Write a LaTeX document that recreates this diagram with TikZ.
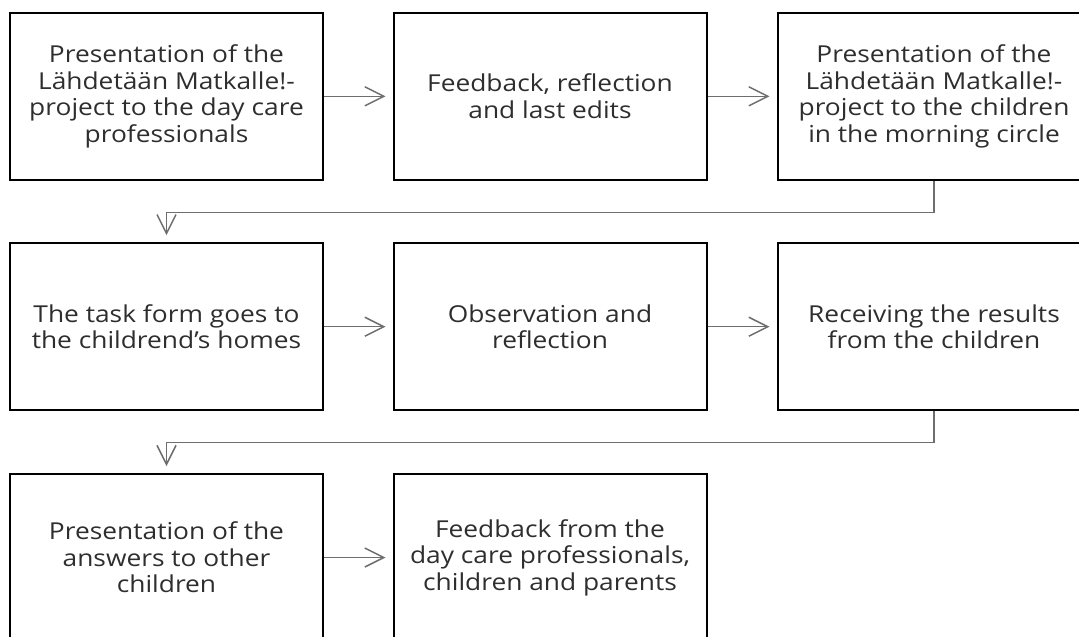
\documentclass[tikz,border=0pt]{standalone}
\usepackage{fontspec}
\setmainfont{Open Sans}[FakeStretch=1.13]
\usetikzlibrary{arrows.meta}
\definecolor{txt}{HTML}{2E2E2E}
\definecolor{conncol}{HTML}{6E6E6E}
\tikzset{
  flowbox/.style={draw=black, line width=2pt, minimum width=313pt, minimum height=167pt,
    inner sep=0pt, align=center, text=txt,
    font=\fontsize{23.3pt}{26.5pt}\selectfont},
  conn/.style={draw=conncol, line width=1.5pt,
    -{Straight Barb[length=19pt,width=19pt,line width=1.5pt]}, shorten >=7pt}
}
\begin{document}
\begin{tikzpicture}[x=1pt,y=-1pt]
\clip (0,0) rectangle (1079,637);
\fill[white] (0,0) rectangle (1079,637);
% row 1
\node[flowbox] (b1) at (166.5,96.3) {Presentation of the\\Lähdetään Matkalle!-\\project to the day care\\professionals};
\node[flowbox] (b2) at (550,96.3) {Feedback, reflection\\and last edits};
\node[flowbox] (b3) at (934,96.3) {Presentation of the\\Lähdetään Matkalle!-\\project to the children\\in the morning circle};
% row 2
\node[flowbox] (b4) at (166.5,326.7) {The task form goes to\\the childrend's homes};
\node[flowbox] (b5) at (550,326.7) {Observation and\\reflection};
\node[flowbox] (b6) at (934,326.7) {Receiving the results\\from the children};
% row 3
\node[flowbox] (b7) at (166.5,557.5) {Presentation of the\\answers to other\\children};
\node[flowbox] (b8) at (550,557.5) {Feedback from the\\day care professionals,\\children and parents};
% connectors
\draw[conn] (b1.east) -- (b2.west);
\draw[conn] (b2.east) -- (b3.west);
\draw[conn] (b4.east) -- (b5.west);
\draw[conn] (b5.east) -- (b6.west);
\draw[conn] (b7.east) -- (b8.west);
\draw[conn] (b3.south) -- ++(0,31.5) -| (b4.north);
\draw[conn] (b6.south) -- ++(0,31.5) -| (b7.north);
\end{tikzpicture}
\end{document}
